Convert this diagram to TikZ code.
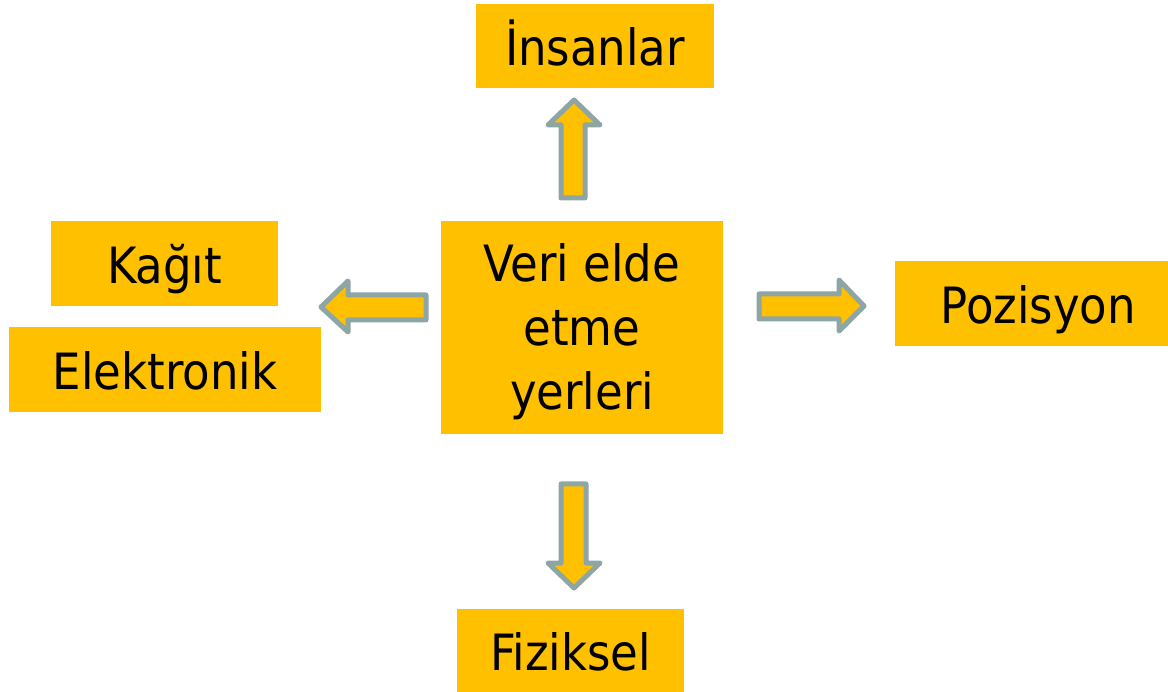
\documentclass[tikz,border=0pt]{standalone}
\usepackage{fontspec}
\setmainfont{DejaVu Sans Condensed}
\definecolor{boxfill}{HTML}{FFC000}
\definecolor{arrowline}{HTML}{8EA5A5}
\begin{document}
\begin{tikzpicture}[x=1pt,y=-1pt,
  box/.style={fill=boxfill, inner sep=0pt, font=\fontsize{50}{64}\selectfont,
    text height=40pt, text depth=0pt},
  blockarrow/.style={fill=boxfill, draw=arrowline, line width=5pt, line join=round}]
\useasboundingbox (0,0) rectangle (1168,692);
% boxes
\node[box, minimum width=238pt, minimum height=84pt] (insanlar) at (595,46) {İnsanlar};
\node[box, minimum width=227pt, minimum height=85pt] (kagit) at (164.5,263.5) {Kağıt};
\node[box, minimum width=312pt, minimum height=85pt] (elektronik) at (165,369.5) {Elektronik};
\node[box, minimum width=273pt, minimum height=85pt] (pozisyon) at (1031.5,303.5) {\hspace{14pt}Pozisyon};
\node[box, minimum width=227pt, minimum height=83pt] (fiziksel) at (570.5,650.5) {Fiziksel};
\node[fill=boxfill, inner sep=0pt, minimum width=282pt, minimum height=213pt,
  font=\fontsize{50}{64}\selectfont, align=center] (veri) at (582,327.5) {\rule{0pt}{46pt}Veri elde\\etme\\yerleri};
% block arrows
\draw[blockarrow] (574,100) -- (600,125) -- (585,125) -- (585,198) -- (561,198) -- (561,125) -- (548,125) -- cycle;
\draw[blockarrow] (574,588) -- (600,563) -- (586,563) -- (586,484) -- (561,484) -- (561,563) -- (548,563) -- cycle;
\draw[blockarrow] (864,306) -- (839,280) -- (839,294) -- (759,294) -- (759,319) -- (839,319) -- (839,331) -- cycle;
\draw[blockarrow] (321,307) -- (348,281) -- (348,295) -- (426,295) -- (426,320) -- (348,320) -- (348,332) -- cycle;
\end{tikzpicture}
\end{document}
